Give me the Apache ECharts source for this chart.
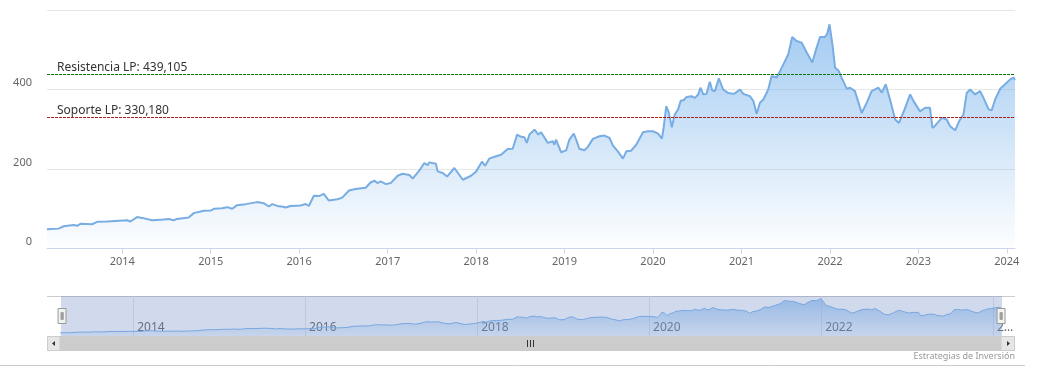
<!DOCTYPE html>
<html>
<head>
<meta charset="utf-8">
<script src="https://cdn.jsdelivr.net/npm/echarts@6/dist/echarts.min.js"></script>
<style>html,body{margin:0;padding:0;background:#fff;}#chart{width:1062px;height:390px;}</style>
</head>
<body>
<div id="chart"></div>
<script>
const dates = [
'2013-02-24','2013-04-13','2013-05-04','2013-06-14','2013-06-28','2013-07-12','2013-08-29','2013-09-19','2013-10-30',
'2014-01-21','2014-02-03','2014-03-03','2014-03-24','2014-05-04','2014-06-21','2014-07-12','2014-08-01','2014-08-15','2014-10-02','2014-10-23','2014-12-04',
'2015-01-01','2015-01-14','2015-02-17','2015-03-10','2015-03-31','2015-04-20','2015-05-25','2015-07-12','2015-08-08','2015-08-29','2015-09-12','2015-10-09','2015-10-27','2015-11-06','2015-11-27',
'2016-01-07','2016-01-28','2016-02-10','2016-03-02','2016-03-23','2016-04-12','2016-05-03','2016-06-07','2016-06-27','2016-07-25','2016-08-21','2016-10-02','2016-10-22','2016-11-08','2016-11-19','2016-12-03','2016-12-24',
'2017-01-14','2017-02-11','2017-03-03','2017-03-31','2017-04-14','2017-05-11','2017-06-01','2017-06-15','2017-06-22','2017-07-19','2017-07-26','2017-08-16','2017-09-03','2017-10-03','2017-10-10','2017-11-07','2017-12-11',
'2018-01-01','2018-01-25','2018-02-07','2018-02-24','2018-03-24','2018-04-14','2018-05-11','2018-06-01','2018-06-19','2018-07-06','2018-07-19','2018-07-29','2018-08-09','2018-08-30','2018-09-15','2018-09-26','2018-10-24','2018-11-14','2018-11-20','2018-11-27','2018-12-18',
'2019-01-08','2019-01-21','2019-02-08','2019-02-18','2019-03-03','2019-03-24','2019-04-07','2019-04-28','2019-05-25','2019-06-15','2019-07-06','2019-07-20','2019-08-09','2019-08-30','2019-09-13','2019-10-03','2019-10-24','2019-11-21','2019-12-11',
'2020-01-01','2020-01-22','2020-02-07','2020-02-15','2020-02-25','2020-03-06','2020-03-19','2020-03-31','2020-04-14','2020-04-25','2020-05-05','2020-05-19','2020-06-08','2020-06-22','2020-07-06','2020-07-15','2020-07-27','2020-08-09','2020-08-23','2020-09-02','2020-09-13','2020-09-29','2020-10-17','2020-11-07','2020-12-01','2020-12-26',
'2021-01-08','2021-02-05','2021-02-19','2021-03-04','2021-03-18','2021-04-01','2021-04-21','2021-05-05','2021-05-26','2021-06-16','2021-07-13','2021-07-29','2021-08-06','2021-08-16','2021-09-06','2021-09-27','2021-10-20','2021-11-07','2021-11-21','2021-12-11','2021-12-21','2021-12-30',
'2022-01-11','2022-01-22','2022-02-05','2022-02-18','2022-03-11','2022-03-25','2022-04-14','2022-05-12','2022-06-02','2022-06-22','2022-07-20','2022-08-03','2022-08-19','2022-09-06','2022-09-27','2022-10-13','2022-11-05','2022-11-28','2022-12-12',
'2023-01-08','2023-01-29','2023-02-18','2023-02-28','2023-03-11','2023-04-08','2023-04-28','2023-05-12','2023-06-02','2023-06-18','2023-07-06','2023-07-20','2023-08-03','2023-08-23','2023-09-13','2023-09-27','2023-10-18','2023-10-31','2023-11-14','2023-12-05','2023-12-25',
'2024-01-15','2024-01-29','2024-02-04'
];
const values = [
48.5,50,56,59,57,62,61,67,68,
71,68,79,77,71,73,74,71,74.5,78,89,95,
95.5,100,101.5,104,100,109,111.6,116.7,114,105.6,111.6,106,105,103,107,
108,112,107,132.6,131.8,137.6,120.7,124,128,146,149.5,152.8,166,170.5,164.6,168.7,162,
165,183,188,184.8,176,195.7,215,210,216.7,213,194,190,181,202.5,204,173,183,
194,218.4,208,226,232,236,250.5,251,286.6,281,280,265.7,286.6,299,286.6,292.4,265.7,269.7,261,274,242,
247,274,289,274,251,247,255.6,275.8,282.3,284,278,258.8,244.4,226,244.4,246,261,292.4,295,
295,289,276.5,307.6,358,343,305,337,350,372.5,372.5,381,383,379,387.6,404.5,387.6,389,419.7,397.7,396,428,400,391,389,400,
389,383,370.7,339,366.7,375,400,434,430,455,488.6,532,537,522,518,493,467.7,505.6,532,532,541,564,
514,455,448,430,402,404.5,396,341,366.7,396,404.5,392,413,375,324.5,316,350,387.6,370.7,
345,354,354,303.5,309,328.8,324.5,307.6,297.5,320,337,392,400,387.6,396,379,350,348,375,402,413,
425.5,430,424
];
const yearTicks = ['2014','2015','2016','2017','2018','2019','2020','2021','2022','2023','2024'];
const navTicks = ['2014','2016','2018','2020','2022','2024'];
const yTicks = [0, 200, 400, 600];
const levelNames = ['Resistencia LP', 'Soporte LP'];
const levelValues = [439.105, 330.18];
const levelColors = ['#0a7a0a', '#b01e1e'];

const ts = d => new Date(d + 'T00:00:00Z').getTime();
const toTs = y => ts(y + '-01-01');
const seriesData = dates.map((d, i) => [ts(d), values[i]]);
const xMin = ts(dates[0]), xMax = ts(dates[dates.length - 1]);
const yearOf = v => String(new Date(v).getUTCFullYear());
const fmtLevel = v => v.toFixed(3).replace('.', ',');

const chart = echarts.init(document.getElementById('chart'), null, {renderer: 'canvas'});
const grad = (a0, a1) => new echarts.graphic.LinearGradient(0, 0, 0, 1, [
  {offset: 0, color: 'rgba(124,181,236,' + a0 + ')'},
  {offset: 1, color: 'rgba(124,181,236,' + a1 + ')'}
]);

chart.setOption({
  animation: false,
  textStyle: {fontFamily: 'Noto Sans'},
  grid: [
    {left: 47, right: 47, top: 10, height: 238.5},
    {left: 60, right: 61, top: 296, height: 40}
  ],
  xAxis: [{
    type: 'value', gridIndex: 0, min: xMin, max: xMax,
    axisLine: {lineStyle: {color: '#ccd6eb'}},
    axisTick: {show: true, length: 5, lineStyle: {color: '#ccd6eb'}, customValues: yearTicks.map(toTs)},
    axisLabel: {color: '#666', fontSize: 11, margin: 8, customValues: yearTicks.map(toTs), formatter: yearOf},
    splitLine: {show: false}
  }, {
    type: 'value', gridIndex: 1, min: xMin, max: xMax,
    axisLine: {show: false},
    axisTick: {show: false, customValues: navTicks.map(toTs)},
    splitLine: {show: true, lineStyle: {color: '#e6e6e6'}},
    axisLabel: {inside: true, color: '#666', fontSize: 12, align: 'left', verticalAlign: 'bottom', margin: 2,
      padding: [0, 0, 0, 4], customValues: navTicks.map(toTs),
      formatter: v => {
        const y = yearOf(v);
        return y === navTicks[navTicks.length - 1] ? y[0] + '\u2026' : y;
      }}
  }],
  yAxis: [{
    type: 'value', gridIndex: 0, min: yTicks[0], max: yTicks[yTicks.length - 1], interval: 200,
    axisLine: {show: false}, axisTick: {show: false},
    axisLabel: {color: '#666', fontSize: 11, margin: 15, verticalAlign: 'bottom', padding: [0, 0, 1, 0], showMaxLabel: false},
    splitLine: {lineStyle: {color: '#e6e6e6'}}
  }, {
    type: 'value', gridIndex: 1, min: 0, max: 600, show: false
  }],
  dataZoom: [{
    type: 'slider', xAxisIndex: 0, start: 0, end: 100,
    left: 60, right: 61, top: 296, height: 40,
    showDataShadow: false, showDetail: false, brushSelect: false, moveHandleSize: 0,
    fillerColor: 'rgba(102,133,194,0.3)', borderColor: 'transparent', backgroundColor: 'transparent',
    handleIcon: 'path://M0,0H8V15H0Z M3,4V11H3.8V4Z M4.4,4V11H5.2V4Z',
    handleSize: 15,
    handleStyle: {color: '#f2f2f2', borderColor: '#999', borderWidth: 1},
    emphasis: {handleStyle: {color: '#f2f2f2', borderColor: '#999'}}
  }],
  series: [{
    type: 'line', xAxisIndex: 0, yAxisIndex: 0, data: seriesData,
    symbol: 'none', lineStyle: {color: '#78ade4', width: 2},
    areaStyle: {color: grad(1, 0.02)},
    markLine: {
      symbol: 'none', silent: true,
      data: levelValues.map((v, i) => ({
        yAxis: v,
        lineStyle: {color: levelColors[i], width: 1, type: [3, 1]},
        label: {show: true, position: 'insideStartTop', distance: [10, 0.5], color: '#333', fontSize: 12,
          formatter: levelNames[i] + ': ' + fmtLevel(v)}
      }))
    }
  }, {
    type: 'line', xAxisIndex: 1, yAxisIndex: 1, data: seriesData,
    symbol: 'none', lineStyle: {color: '#7cb5ec', width: 1},
    areaStyle: {color: grad(0.9, 0.15)}
  }],
  graphic: [
    {type: 'rect', shape: {x: 60, y: 336, width: 941, height: 15}, style: {fill: '#cccccc'}},
    {type: 'rect', shape: {x: 47.5, y: 336.5, width: 12.5, height: 14}, style: {fill: '#e6e6e6', stroke: '#cccccc'}},
    {type: 'rect', shape: {x: 1001, y: 336.5, width: 13.5, height: 14}, style: {fill: '#e6e6e6', stroke: '#cccccc'}},
    {type: 'polygon', shape: {points: [[52, 343.5], [55, 341], [55, 346]]}, style: {fill: '#333'}},
    {type: 'polygon', shape: {points: [[1010, 343.5], [1007, 341], [1007, 346]]}, style: {fill: '#333'}},
    {type: 'line', shape: {x1: 527.5, y1: 340, x2: 527.5, y2: 347}, style: {stroke: '#333'}},
    {type: 'line', shape: {x1: 530.5, y1: 340, x2: 530.5, y2: 347}, style: {stroke: '#333'}},
    {type: 'line', shape: {x1: 533.5, y1: 340, x2: 533.5, y2: 347}, style: {stroke: '#333'}},
    {type: 'line', shape: {x1: 47, y1: 296.5, x2: 1015, y2: 296.5}, style: {stroke: '#cccccc'}},
    {type: 'line', shape: {x1: 0, y1: 365.5, x2: 1025, y2: 365.5}, style: {stroke: '#cccccc'}},
    {type: 'text', x: 1015, y: 352, style: {text: 'Estrategias de Inversi\u00f3n', fill: '#999', font: '9px "Noto Sans"', align: 'right'}}
  ]
});
</script>
</body>
</html>
